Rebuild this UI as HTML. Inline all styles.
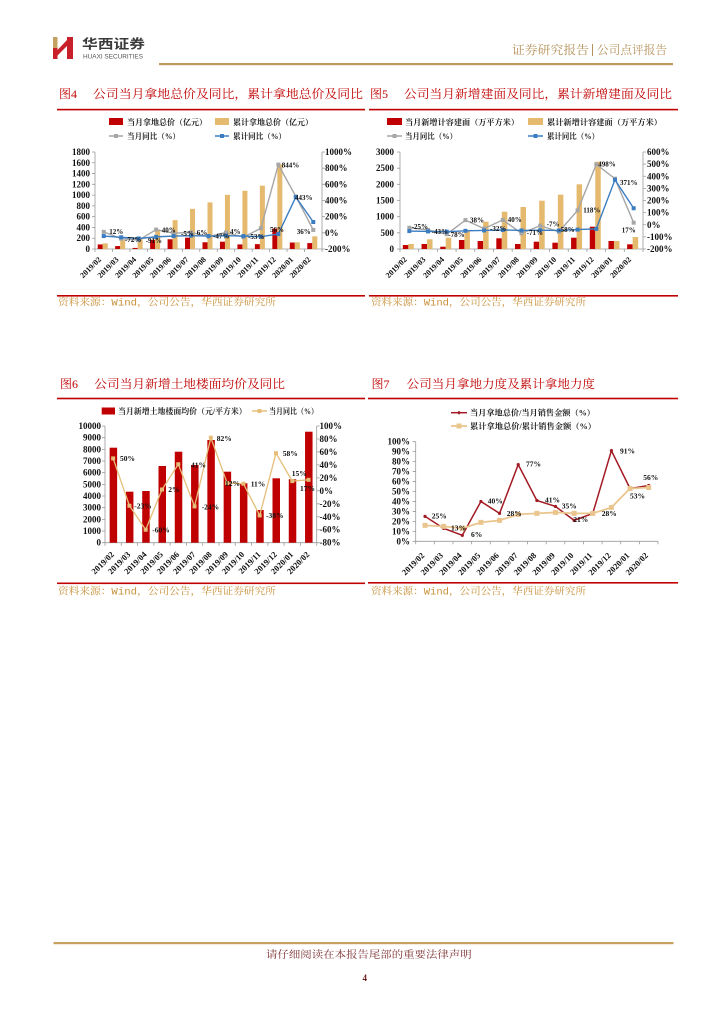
<!DOCTYPE html>
<html><head><meta charset="utf-8"><style>
html,body{margin:0;padding:0;background:#fff;}
svg{display:block;}
.n{font-family:"Liberation Serif","Noto Serif CJK SC",serif;font-weight:bold;fill:#111;}
.c{font-family:"Liberation Serif","Noto Serif CJK SC",serif;}
.lg{font-family:"Liberation Serif","Noto Serif CJK SC",serif;font-weight:bold;font-size:8px;fill:#222;}
.tt{font-family:"Liberation Serif","Noto Serif CJK SC",serif;font-size:12px;fill:#C00000;}
.src{font-family:"Liberation Mono","Noto Serif CJK SC",serif;font-size:10px;fill:#C8913A;}
.ax{stroke:#9a9a9a;stroke-width:0.8;fill:none;}
</style></head><body>
<svg width="724" height="1024" viewBox="0 0 724 1024" xmlns="http://www.w3.org/2000/svg">
<!-- Header -->
<rect x="53" y="37" width="4.5" height="11" fill="#C4A062"/>
<rect x="53" y="48" width="4.5" height="11" fill="#C8202A"/>
<polygon points="57.5,50 67,40 67,46 57.5,55.5" fill="#C8202A"/>
<rect x="67" y="37" width="6" height="22" fill="#C8202A"/>
<text x="82" y="48.5" class="c" font-size="13" font-weight="bold" fill="#3a3a3a" textLength="63" lengthAdjust="spacingAndGlyphs" style="font-family:'Noto Sans CJK SC',sans-serif">华西证券</text>
<text x="83" y="58.7" font-family="Liberation Sans, sans-serif" font-size="6" fill="#555" textLength="60" lengthAdjust="spacingAndGlyphs">HUAXI SECURITIES</text>
<text x="512" y="54" class="c" font-size="12" fill="#B4915A" textLength="77" lengthAdjust="spacingAndGlyphs">证券研究报告</text>
<line x1="592.5" y1="44" x2="592.5" y2="56" stroke="#B4915A" stroke-width="1"/>
<text x="597" y="54" class="c" font-size="12" fill="#B4915A" textLength="70" lengthAdjust="spacingAndGlyphs">公司点评报告</text>
<rect x="159" y="63" width="514" height="2.2" fill="#C09A5B"/>

<!-- Titles top -->
<text x="59" y="98" class="tt">图4</text>
<text x="93" y="98" class="tt" textLength="270" lengthAdjust="spacingAndGlyphs">公司当月拿地总价及同比，累计拿地总价及同比</text>
<text x="370" y="98" class="tt">图5</text>
<text x="404" y="98" class="tt" textLength="268" lengthAdjust="spacingAndGlyphs">公司当月新增建面及同比，累计新增建面及同比</text>
<rect x="57" y="108.8" width="308" height="1.6" fill="#C00000"/>
<rect x="369" y="108.8" width="309" height="1.6" fill="#C00000"/>

<!-- ================= Chart 4 ================= -->
<rect x="109" y="118" width="14" height="7" fill="#C00000"/>
<text x="127" y="124.8" class="lg" textLength="80" lengthAdjust="spacingAndGlyphs">当月拿地总价（亿元）</text>
<rect x="215" y="118" width="14" height="7" fill="#E5B96E"/>
<text x="233" y="124.8" class="lg" textLength="80" lengthAdjust="spacingAndGlyphs">累计拿地总价（亿元）</text>
<line x1="109" y1="136" x2="123" y2="136" stroke="#A6A6A6" stroke-width="1.5"/>
<rect x="114" y="134" width="4" height="4" fill="#A6A6A6"/>
<text x="127" y="139" class="lg" textLength="53" lengthAdjust="spacingAndGlyphs">当月同比（%）</text>
<line x1="215" y1="136" x2="229" y2="136" stroke="#3B7DC0" stroke-width="1.5"/>
<rect x="220" y="134" width="4" height="4" fill="#3B7DC0"/>
<text x="233" y="139" class="lg" textLength="53" lengthAdjust="spacingAndGlyphs">累计同比（%）</text>

<path class="ax" d="M95,152V249H322V152 M92,249H95M92,238.22H95M92,227.44H95M92,216.67H95M92,205.89H95M92,195.11H95M92,184.33H95M92,173.56H95M92,162.78H95M92,152H95 M322,249H325M322,232.83H325M322,216.67H325M322,200.5H325M322,184.33H325M322,168.17H325M322,152H325 M95,249v3M112.46,249v3M129.92,249v3M147.38,249v3M164.85,249v3M182.31,249v3M199.77,249v3M217.23,249v3M234.69,249v3M252.15,249v3M269.62,249v3M287.08,249v3M304.54,249v3M322,249v3"/>
<g class="n" font-size="9" text-anchor="end">
<text x="90" y="252">0</text><text x="90" y="241.2">200</text><text x="90" y="230.4">400</text><text x="90" y="219.7">600</text><text x="90" y="208.9">800</text><text x="90" y="198.1">1000</text><text x="90" y="187.3">1200</text><text x="90" y="176.6">1400</text><text x="90" y="165.8">1600</text><text x="90" y="155">1800</text>
</g>
<g class="n" font-size="9">
<text x="325" y="252">-200%</text><text x="325" y="235.8">0%</text><text x="325" y="219.7">200%</text><text x="325" y="203.5">400%</text><text x="325" y="187.3">600%</text><text x="325" y="171.2">800%</text><text x="325" y="155">1000%</text>
</g>
<g fill="#C00000">
<rect x="97.73" y="244.42" width="5" height="4.58"/><rect x="115.19" y="246.04" width="5" height="2.96"/><rect x="132.65" y="247.92" width="5" height="1.08"/><rect x="150.12" y="239.84" width="5" height="9.16"/><rect x="167.58" y="239.3" width="5" height="9.7"/><rect x="185.04" y="237.68" width="5" height="11.32"/><rect x="202.5" y="242.26" width="5" height="6.74"/><rect x="219.96" y="241.72" width="5" height="7.28"/><rect x="237.42" y="244.42" width="5" height="4.58"/><rect x="254.88" y="244.15" width="5" height="4.85"/><rect x="272.35" y="228.52" width="5" height="20.48"/><rect x="289.81" y="242.53" width="5" height="6.47"/><rect x="307.27" y="243.07" width="5" height="5.93"/>
</g>
<g fill="#E5B96E">
<rect x="102.73" y="243.34" width="5" height="5.66"/><rect x="120.19" y="240.11" width="5" height="8.89"/><rect x="137.65" y="239.03" width="5" height="9.97"/><rect x="155.12" y="230.41" width="5" height="18.59"/><rect x="172.58" y="220.17" width="5" height="28.83"/><rect x="190.04" y="208.85" width="5" height="40.15"/><rect x="207.5" y="202.39" width="5" height="46.61"/><rect x="224.96" y="194.84" width="5" height="54.16"/><rect x="242.42" y="190.8" width="5" height="58.2"/><rect x="259.88" y="185.68" width="5" height="63.32"/><rect x="277.35" y="164.39" width="5" height="84.61"/><rect x="294.81" y="242.26" width="5" height="6.74"/><rect x="312.27" y="236.34" width="5" height="12.66"/>
</g>
<polyline fill="none" stroke="#A6A6A6" stroke-width="1.4" points="103.73,231.86 121.19,238.65 138.65,240.19 156.12,229.6 173.58,233.24 191.04,232.35 208.5,236.63 225.96,232.51 243.42,237.12 260.88,228.31 278.35,164.61 295.81,196.46 313.27,229.92"/>
<g fill="#A6A6A6">
<rect x="101.73" y="229.86" width="4" height="4"/><rect x="119.19" y="236.65" width="4" height="4"/><rect x="136.65" y="238.19" width="4" height="4"/><rect x="154.12" y="227.6" width="4" height="4"/><rect x="171.58" y="231.24" width="4" height="4"/><rect x="189.04" y="230.35" width="4" height="4"/><rect x="206.5" y="234.63" width="4" height="4"/><rect x="223.96" y="230.51" width="4" height="4"/><rect x="241.42" y="235.12" width="4" height="4"/><rect x="258.88" y="226.31" width="4" height="4"/><rect x="276.35" y="162.61" width="4" height="4"/><rect x="293.81" y="194.46" width="4" height="4"/><rect x="311.27" y="227.92" width="4" height="4"/>
</g>
<polyline fill="none" stroke="#3B7DC0" stroke-width="1.4" points="103.73,236.07 121.19,237.28 138.65,238.49 156.12,236.88 173.58,236.07 191.04,235.66 208.5,236.07 225.96,235.66 243.42,236.07 260.88,236.71 278.35,234.05 295.81,197.02 313.27,222"/>
<g fill="#3B7DC0">
<rect x="101.73" y="234.07" width="4" height="4"/><rect x="119.19" y="235.28" width="4" height="4"/><rect x="136.65" y="236.49" width="4" height="4"/><rect x="154.12" y="234.88" width="4" height="4"/><rect x="171.58" y="234.07" width="4" height="4"/><rect x="189.04" y="233.66" width="4" height="4"/><rect x="206.5" y="234.07" width="4" height="4"/><rect x="223.96" y="233.66" width="4" height="4"/><rect x="241.42" y="234.07" width="4" height="4"/><rect x="258.88" y="234.71" width="4" height="4"/><rect x="276.35" y="232.05" width="4" height="4"/><rect x="293.81" y="195.02" width="4" height="4"/><rect x="311.27" y="220" width="4" height="4"/>
</g>
<g class="n" font-size="7">
<text x="109.3" y="234.2">12%</text><text x="125" y="241.8">-72%</text><text x="145.7" y="243.2">-91%</text><text x="161.7" y="232.5">40%</text><text x="181" y="235.8">-5%</text><text x="196.7" y="234.8">6%</text><text x="213" y="238.5">-47%</text><text x="230" y="234.2">4%</text><text x="248" y="239.2">-53%</text><text x="270" y="231.8">56%</text><text x="281.7" y="167.5">844%</text><text x="295" y="199.8">443%</text><text x="296.7" y="234.2">36%</text>
</g>
<g class="n" font-size="8" text-anchor="end">
<text transform="translate(101.73,260) rotate(-45)">2019/02</text><text transform="translate(119.19,260) rotate(-45)">2019/03</text><text transform="translate(136.65,260) rotate(-45)">2019/04</text><text transform="translate(154.12,260) rotate(-45)">2019/05</text><text transform="translate(171.58,260) rotate(-45)">2019/06</text><text transform="translate(189.04,260) rotate(-45)">2019/07</text><text transform="translate(206.5,260) rotate(-45)">2019/08</text><text transform="translate(223.96,260) rotate(-45)">2019/09</text><text transform="translate(241.42,260) rotate(-45)">2019/10</text><text transform="translate(258.88,260) rotate(-45)">2019/11</text><text transform="translate(276.35,260) rotate(-45)">2019/12</text><text transform="translate(293.81,260) rotate(-45)">2020/01</text><text transform="translate(311.27,260) rotate(-45)">2020/02</text>
</g>

<!-- ================= Chart 5 ================= -->
<rect x="387" y="118" width="15" height="7" fill="#C00000"/>
<text x="405" y="124.8" class="lg" textLength="114" lengthAdjust="spacingAndGlyphs">当月新增计容建面（万平方米）</text>
<rect x="528" y="118" width="15" height="7" fill="#E5B96E"/>
<text x="547" y="124.8" class="lg" textLength="115" lengthAdjust="spacingAndGlyphs">累计新增计容建面（万平方米）</text>
<line x1="387" y1="136" x2="402" y2="136" stroke="#A6A6A6" stroke-width="1.5"/>
<rect x="392.5" y="134" width="4" height="4" fill="#A6A6A6"/>
<text x="405" y="139" class="lg" textLength="52" lengthAdjust="spacingAndGlyphs">当月同比（%）</text>
<line x1="528" y1="136" x2="543" y2="136" stroke="#3B7DC0" stroke-width="1.5"/>
<rect x="533.5" y="134" width="4" height="4" fill="#3B7DC0"/>
<text x="547" y="139" class="lg" textLength="52" lengthAdjust="spacingAndGlyphs">累计同比（%）</text>

<path class="ax" d="M400,152V249H643V152 M397,249H400M397,232.83H400M397,216.67H400M397,200.5H400M397,184.33H400M397,168.17H400M397,152H400 M643,249H646M643,236.88H646M643,224.75H646M643,212.63H646M643,200.5H646M643,188.38H646M643,176.25H646M643,164.13H646M643,152H646 M400,249v3M418.69,249v3M437.38,249v3M456.08,249v3M474.77,249v3M493.46,249v3M512.15,249v3M530.85,249v3M549.54,249v3M568.23,249v3M586.92,249v3M605.62,249v3M624.31,249v3M643,249v3"/>
<g class="n" font-size="9" text-anchor="end">
<text x="394" y="252">0</text><text x="394" y="235.8">500</text><text x="394" y="219.7">1000</text><text x="394" y="203.5">1500</text><text x="394" y="187.3">2000</text><text x="394" y="171.2">2500</text><text x="394" y="155">3000</text>
</g>
<g class="n" font-size="9">
<text x="647" y="252">-200%</text><text x="647" y="239.9">-100%</text><text x="647" y="227.8">0%</text><text x="647" y="215.6">100%</text><text x="647" y="203.5">200%</text><text x="647" y="191.4">300%</text><text x="647" y="179.3">400%</text><text x="647" y="167.1">500%</text><text x="647" y="155">600%</text>
</g>
<g fill="#C00000">
<rect x="402.85" y="245" width="5.5" height="4"/><rect x="421.54" y="244" width="5.5" height="5"/><rect x="440.23" y="246.7" width="5.5" height="2.3"/><rect x="458.92" y="240" width="5.5" height="9"/><rect x="477.62" y="241" width="5.5" height="8"/><rect x="496.31" y="238.3" width="5.5" height="10.7"/><rect x="515" y="244" width="5.5" height="5"/><rect x="533.69" y="241.7" width="5.5" height="7.3"/><rect x="552.38" y="242.7" width="5.5" height="6.3"/><rect x="571.08" y="237.7" width="5.5" height="11.3"/><rect x="589.77" y="226.7" width="5.5" height="22.3"/><rect x="608.46" y="241" width="5.5" height="8"/><rect x="627.15" y="244.3" width="5.5" height="4.7"/>
</g>
<g fill="#E5B96E">
<rect x="408.35" y="244" width="5.5" height="5"/><rect x="427.04" y="239.3" width="5.5" height="9.7"/><rect x="445.73" y="237.7" width="5.5" height="11.3"/><rect x="464.42" y="230" width="5.5" height="19"/><rect x="483.12" y="221.7" width="5.5" height="27.3"/><rect x="501.81" y="211.7" width="5.5" height="37.3"/><rect x="520.5" y="207" width="5.5" height="42"/><rect x="539.19" y="200.7" width="5.5" height="48.3"/><rect x="557.88" y="194.7" width="5.5" height="54.3"/><rect x="576.58" y="184.3" width="5.5" height="64.7"/><rect x="595.27" y="161.7" width="5.5" height="87.3"/><rect x="613.96" y="241" width="5.5" height="8"/><rect x="632.65" y="237" width="5.5" height="12"/>
</g>
<polyline fill="none" stroke="#A6A6A6" stroke-width="1.4" points="409.35,227.78 428.04,229.96 446.73,234.21 465.42,220.14 484.12,228.63 502.81,219.9 521.5,233.36 540.19,225.6 558.88,231.78 577.58,210.44 596.27,164.37 614.96,178.68 633.65,222.69"/>
<g fill="#A6A6A6">
<rect x="407.35" y="225.78" width="4" height="4"/><rect x="426.04" y="227.96" width="4" height="4"/><rect x="444.73" y="232.21" width="4" height="4"/><rect x="463.42" y="218.14" width="4" height="4"/><rect x="482.12" y="226.63" width="4" height="4"/><rect x="500.81" y="217.9" width="4" height="4"/><rect x="519.5" y="231.36" width="4" height="4"/><rect x="538.19" y="223.6" width="4" height="4"/><rect x="556.88" y="229.78" width="4" height="4"/><rect x="575.58" y="208.44" width="4" height="4"/><rect x="594.27" y="162.37" width="4" height="4"/><rect x="612.96" y="176.68" width="4" height="4"/><rect x="631.65" y="220.69" width="4" height="4"/>
</g>
<polyline fill="none" stroke="#3B7DC0" stroke-width="1.4" points="409.35,231.06 428.04,231.42 446.73,231.66 465.42,230.81 484.12,230.45 502.81,229.96 521.5,230.45 540.19,230.21 558.88,230.45 577.58,229.6 596.27,228.87 614.96,179.77 633.65,208.26"/>
<g fill="#3B7DC0">
<rect x="407.35" y="229.06" width="4" height="4"/><rect x="426.04" y="229.42" width="4" height="4"/><rect x="444.73" y="229.66" width="4" height="4"/><rect x="463.42" y="228.81" width="4" height="4"/><rect x="482.12" y="228.45" width="4" height="4"/><rect x="500.81" y="227.96" width="4" height="4"/><rect x="519.5" y="228.45" width="4" height="4"/><rect x="538.19" y="228.21" width="4" height="4"/><rect x="556.88" y="228.45" width="4" height="4"/><rect x="575.58" y="227.6" width="4" height="4"/><rect x="594.27" y="226.87" width="4" height="4"/><rect x="612.96" y="177.77" width="4" height="4"/><rect x="631.65" y="206.26" width="4" height="4"/>
</g>
<g class="n" font-size="7">
<text x="411.7" y="229.2">-25%</text><text x="431.7" y="234.2">-43%</text><text x="448.3" y="236.8">-78%</text><text x="470" y="222.5">38%</text><text x="490" y="230.8">-32%</text><text x="507.7" y="221.8">40%</text><text x="526.7" y="235.2">-71%</text><text x="546.7" y="226.5">-7%</text><text x="558.3" y="231.8">-58%</text><text x="583.3" y="212.5">118%</text><text x="598.3" y="166.5">498%</text><text x="620" y="185.2">371%</text><text x="621.7" y="232.5">17%</text>
</g>
<g class="n" font-size="8" text-anchor="end">
<text transform="translate(407.35,260) rotate(-45)">2019/02</text><text transform="translate(426.04,260) rotate(-45)">2019/03</text><text transform="translate(444.73,260) rotate(-45)">2019/04</text><text transform="translate(463.42,260) rotate(-45)">2019/05</text><text transform="translate(482.12,260) rotate(-45)">2019/06</text><text transform="translate(500.81,260) rotate(-45)">2019/07</text><text transform="translate(519.5,260) rotate(-45)">2019/08</text><text transform="translate(538.19,260) rotate(-45)">2019/09</text><text transform="translate(556.88,260) rotate(-45)">2019/10</text><text transform="translate(575.58,260) rotate(-45)">2019/11</text><text transform="translate(594.27,260) rotate(-45)">2019/12</text><text transform="translate(612.96,260) rotate(-45)">2020/01</text><text transform="translate(631.65,260) rotate(-45)">2020/02</text>
</g>

<!-- bottom lines + sources (top row) -->
<rect x="57" y="295" width="308" height="1.6" fill="#C00000"/>
<rect x="369" y="295" width="309" height="1.6" fill="#C00000"/>
<text x="58" y="305.5" class="src" textLength="218" lengthAdjust="spacingAndGlyphs">资料来源：Wind，公司公告，华西证券研究所</text>
<text x="371" y="305.5" class="src" textLength="215" lengthAdjust="spacingAndGlyphs">资料来源：Wind，公司公告，华西证券研究所</text>

<!-- Titles bottom row -->
<text x="60" y="388" class="tt">图6</text>
<text x="94.3" y="388" class="tt" textLength="190.7" lengthAdjust="spacingAndGlyphs">公司当月新增土地楼面均价及同比</text>
<text x="371.5" y="388" class="tt">图7</text>
<text x="406.7" y="388" class="tt" textLength="188.3" lengthAdjust="spacingAndGlyphs">公司当月拿地力度及累计拿地力度</text>
<rect x="57" y="397.7" width="308" height="1.6" fill="#C00000"/>
<rect x="368" y="397.7" width="310" height="1.6" fill="#C00000"/>

<!-- ================= Chart 6 ================= -->
<rect x="101.7" y="407.5" width="13.3" height="7" fill="#C00000"/>
<text x="118" y="414" class="lg" textLength="128.7" lengthAdjust="spacingAndGlyphs">当月新增土地楼面均价（元/平方米）</text>
<line x1="252" y1="411" x2="267" y2="411" stroke="#E5BE7A" stroke-width="1.5"/>
<rect x="257.5" y="409" width="4" height="4" fill="#E5BE7A"/>
<text x="269" y="414" class="lg" textLength="49" lengthAdjust="spacingAndGlyphs">当月同比（%）</text>

<path class="ax" d="M105,426V542.7H316.7V426 M102,542.7H105M102,531.03H105M102,519.36H105M102,507.69H105M102,496.02H105M102,484.35H105M102,472.68H105M102,461.01H105M102,449.34H105M102,437.67H105M102,426H105 M316.7,542.7h3M316.7,529.73h3M316.7,516.77h3M316.7,503.8h3M316.7,490.83h3M316.7,477.87h3M316.7,464.9h3M316.7,451.93h3M316.7,438.97h3M316.7,426h3 M105,542.7v3M121.28,542.7v3M137.57,542.7v3M153.85,542.7v3M170.14,542.7v3M186.42,542.7v3M202.71,542.7v3M218.99,542.7v3M235.28,542.7v3M251.56,542.7v3M267.85,542.7v3M284.13,542.7v3M300.42,542.7v3M316.7,542.7v3"/>
<g class="n" font-size="9" text-anchor="end">
<text x="101" y="545.7">0</text><text x="101" y="534">1000</text><text x="101" y="522.4">2000</text><text x="101" y="510.7">3000</text><text x="101" y="499">4000</text><text x="101" y="487.4">5000</text><text x="101" y="475.7">6000</text><text x="101" y="464">7000</text><text x="101" y="452.3">8000</text><text x="101" y="440.7">9000</text><text x="101" y="429">10000</text>
</g>
<g class="n" font-size="9">
<text x="319.5" y="545.7">-80%</text><text x="319.5" y="532.7">-60%</text><text x="319.5" y="519.8">-40%</text><text x="319.5" y="506.8">-20%</text><text x="319.5" y="493.8">0%</text><text x="319.5" y="480.9">20%</text><text x="319.5" y="467.9">40%</text><text x="319.5" y="454.9">60%</text><text x="319.5" y="442">80%</text><text x="319.5" y="429">100%</text>
</g>
<g fill="#C00000">
<rect x="109.64" y="447.7" width="7.5" height="95"/><rect x="125.93" y="491.7" width="7.5" height="51"/><rect x="142.21" y="491" width="7.5" height="51.7"/><rect x="158.5" y="466" width="7.5" height="76.7"/><rect x="174.78" y="451.7" width="7.5" height="91"/><rect x="191.07" y="465" width="7.5" height="77.7"/><rect x="207.35" y="440" width="7.5" height="102.7"/><rect x="223.64" y="471.7" width="7.5" height="71"/><rect x="239.92" y="483.3" width="7.5" height="59.4"/><rect x="256.21" y="510" width="7.5" height="32.7"/><rect x="272.49" y="478.3" width="7.5" height="64.4"/><rect x="288.78" y="479.3" width="7.5" height="63.4"/><rect x="305.06" y="431.7" width="7.5" height="111"/>
</g>
<polyline fill="none" stroke="#E5BE7A" stroke-width="1.3" points="113.14,458.4 129.43,505.74 145.71,529.73 162,489.53 178.28,464.25 194.57,506.39 210.85,437.67 227.14,483.05 243.42,483.7 259.71,515.47 275.99,453.23 292.28,481.1 308.56,479.81"/>
<g fill="#E5BE7A">
<rect x="111.14" y="456.4" width="4" height="4"/><rect x="127.43" y="503.74" width="4" height="4"/><rect x="143.71" y="527.73" width="4" height="4"/><rect x="160" y="487.53" width="4" height="4"/><rect x="176.28" y="462.25" width="4" height="4"/><rect x="192.57" y="504.39" width="4" height="4"/><rect x="208.85" y="435.67" width="4" height="4"/><rect x="225.14" y="481.05" width="4" height="4"/><rect x="241.42" y="481.7" width="4" height="4"/><rect x="257.71" y="513.47" width="4" height="4"/><rect x="273.99" y="451.23" width="4" height="4"/><rect x="290.28" y="479.1" width="4" height="4"/><rect x="306.56" y="477.81" width="4" height="4"/>
</g>
<g class="n" font-size="7.5">
<text x="120" y="461">50%</text><text x="134.3" y="508.7">-23%</text><text x="152.3" y="532.7">-60%</text><text x="168.3" y="492">2%</text><text x="191" y="467.7">41%</text><text x="201.7" y="509.4">-24%</text><text x="216.7" y="441">82%</text><text x="225" y="486">12%</text><text x="250.7" y="486.7">11%</text><text x="266" y="518">-38%</text><text x="282.7" y="456">58%</text><text x="291.7" y="476">15%</text><text x="300" y="491">17%</text>
</g>
<g class="n" font-size="8.5" text-anchor="end">
<text transform="translate(114.64,555) rotate(-45)">2019/02</text><text transform="translate(130.93,555) rotate(-45)">2019/03</text><text transform="translate(147.21,555) rotate(-45)">2019/04</text><text transform="translate(163.5,555) rotate(-45)">2019/05</text><text transform="translate(179.78,555) rotate(-45)">2019/06</text><text transform="translate(196.07,555) rotate(-45)">2019/07</text><text transform="translate(212.35,555) rotate(-45)">2019/08</text><text transform="translate(228.64,555) rotate(-45)">2019/09</text><text transform="translate(244.92,555) rotate(-45)">2019/10</text><text transform="translate(261.21,555) rotate(-45)">2019/11</text><text transform="translate(277.49,555) rotate(-45)">2019/12</text><text transform="translate(293.78,555) rotate(-45)">2020/01</text><text transform="translate(310.06,555) rotate(-45)">2020/02</text>
</g>

<!-- ================= Chart 7 ================= -->
<line x1="451" y1="412.7" x2="467" y2="412.7" stroke="#A31B24" stroke-width="1.5"/>
<polygon points="459,410.7 461,412.7 459,414.7 457,412.7" fill="#A31B24"/>
<text x="470" y="415.5" class="lg" textLength="125" lengthAdjust="spacingAndGlyphs">当月拿地总价/当月销售金额（%）</text>
<line x1="451" y1="426" x2="467" y2="426" stroke="#EAC58E" stroke-width="1.8"/>
<rect x="456.5" y="423.5" width="5" height="5" fill="#EAC58E"/>
<text x="470" y="429" class="lg" textLength="126" lengthAdjust="spacingAndGlyphs">累计拿地总价/累计销售金额（%）</text>

<path class="ax" d="M415.7,441.7V541.3H658 M412.7,541.3h3M412.7,531.34h3M412.7,521.38h3M412.7,511.42h3M412.7,501.46h3M412.7,491.5h3M412.7,481.54h3M412.7,471.58h3M412.7,461.62h3M412.7,451.66h3M412.7,441.7h3 M415.7,541.3v3M434.34,541.3v3M452.98,541.3v3M471.61,541.3v3M490.25,541.3v3M508.89,541.3v3M527.53,541.3v3M546.17,541.3v3M564.8,541.3v3M583.44,541.3v3M602.08,541.3v3M620.72,541.3v3M639.36,541.3v3M658,541.3v3"/>
<g class="n" font-size="9" text-anchor="end">
<text x="410" y="544.3">0%</text><text x="410" y="534.3">10%</text><text x="410" y="524.4">20%</text><text x="410" y="514.4">30%</text><text x="410" y="504.5">40%</text><text x="410" y="494.5">50%</text><text x="410" y="484.5">60%</text><text x="410" y="474.6">70%</text><text x="410" y="464.6">80%</text><text x="410" y="454.7">90%</text><text x="410" y="444.7">100%</text>
</g>
<polyline fill="none" stroke="#A31B24" stroke-width="1.5" points="425.02,516.4 443.66,528.35 462.3,535.32 480.93,501.46 499.57,513.41 518.21,464.61 536.85,500.46 555.49,506.44 574.13,520.38 592.77,513.41 611.4,450.66 630.04,488.51 648.68,485.52"/>
<g fill="#A31B24">
<circle cx="425.02" cy="516.4" r="1.6"/><circle cx="443.66" cy="528.35" r="1.6"/><circle cx="462.3" cy="535.32" r="1.6"/><circle cx="480.93" cy="501.46" r="1.6"/><circle cx="499.57" cy="513.41" r="1.6"/><circle cx="518.21" cy="464.61" r="1.6"/><circle cx="536.85" cy="500.46" r="1.6"/><circle cx="555.49" cy="506.44" r="1.6"/><circle cx="574.13" cy="520.38" r="1.6"/><circle cx="592.77" cy="513.41" r="1.6"/><circle cx="611.4" cy="450.66" r="1.6"/><circle cx="630.04" cy="488.51" r="1.6"/><circle cx="648.68" cy="485.52" r="1.6"/>
</g>
<polyline fill="none" stroke="#EAC58E" stroke-width="1.8" points="425.02,525.36 443.66,526.36 462.3,528.35 480.93,522.38 499.57,520.38 518.21,514.41 536.85,513.41 555.49,512.42 574.13,513.41 592.77,513.41 611.4,507.44 630.04,488.51 648.68,487.52"/>
<g fill="#EAC58E">
<rect x="422.52" y="522.86" width="5" height="5"/><rect x="441.16" y="523.86" width="5" height="5"/><rect x="459.8" y="525.85" width="5" height="5"/><rect x="478.43" y="519.88" width="5" height="5"/><rect x="497.07" y="517.88" width="5" height="5"/><rect x="515.71" y="511.91" width="5" height="5"/><rect x="534.35" y="510.91" width="5" height="5"/><rect x="552.99" y="509.92" width="5" height="5"/><rect x="571.63" y="510.91" width="5" height="5"/><rect x="590.27" y="510.91" width="5" height="5"/><rect x="608.9" y="504.94" width="5" height="5"/><rect x="627.54" y="486.01" width="5" height="5"/><rect x="646.18" y="485.02" width="5" height="5"/>
</g>
<g class="n" font-size="7.5">
<text x="431.7" y="518.7">25%</text><text x="451" y="530.4">13%</text><text x="471" y="537">6%</text><text x="487.7" y="503.7">40%</text><text x="506.7" y="516">28%</text><text x="526" y="466.7">77%</text><text x="545" y="502.7">41%</text><text x="561.7" y="508.7">35%</text><text x="573.3" y="522">21%</text><text x="601.7" y="516">28%</text><text x="620" y="453.7">91%</text><text x="630" y="498.4">53%</text><text x="643.3" y="480">56%</text>
</g>
<g class="n" font-size="8.5" text-anchor="end">
<text transform="translate(425.02,556) rotate(-45)">2019/02</text><text transform="translate(443.66,556) rotate(-45)">2019/03</text><text transform="translate(462.3,556) rotate(-45)">2019/04</text><text transform="translate(480.93,556) rotate(-45)">2019/05</text><text transform="translate(499.57,556) rotate(-45)">2019/06</text><text transform="translate(518.21,556) rotate(-45)">2019/07</text><text transform="translate(536.85,556) rotate(-45)">2019/08</text><text transform="translate(555.49,556) rotate(-45)">2019/09</text><text transform="translate(574.13,556) rotate(-45)">2019/10</text><text transform="translate(592.77,556) rotate(-45)">2019/11</text><text transform="translate(611.4,556) rotate(-45)">2019/12</text><text transform="translate(630.04,556) rotate(-45)">2020/01</text><text transform="translate(648.68,556) rotate(-45)">2020/02</text>
</g>

<!-- bottom lines + sources (bottom row) -->
<rect x="57" y="582.5" width="308" height="1.6" fill="#C00000"/>
<rect x="368" y="582" width="310" height="1.6" fill="#C00000"/>
<text x="58" y="594.5" class="src" textLength="218" lengthAdjust="spacingAndGlyphs">资料来源：Wind，公司公告，华西证券研究所</text>
<text x="371" y="594.5" class="src" textLength="215" lengthAdjust="spacingAndGlyphs">资料来源：Wind，公司公告，华西证券研究所</text>

<!-- Footer -->
<rect x="53.5" y="942" width="620" height="2.2" fill="#C8A060"/>
<text x="266" y="958" class="c" font-size="10" fill="#7B3030" textLength="205.7" lengthAdjust="spacingAndGlyphs">请仔细阅读在本报告尾部的重要法律声明</text>
<text x="364.7" y="981" class="n" font-size="9" text-anchor="middle" style="fill:#6B1A1A">4</text>
</svg>
</body></html>
